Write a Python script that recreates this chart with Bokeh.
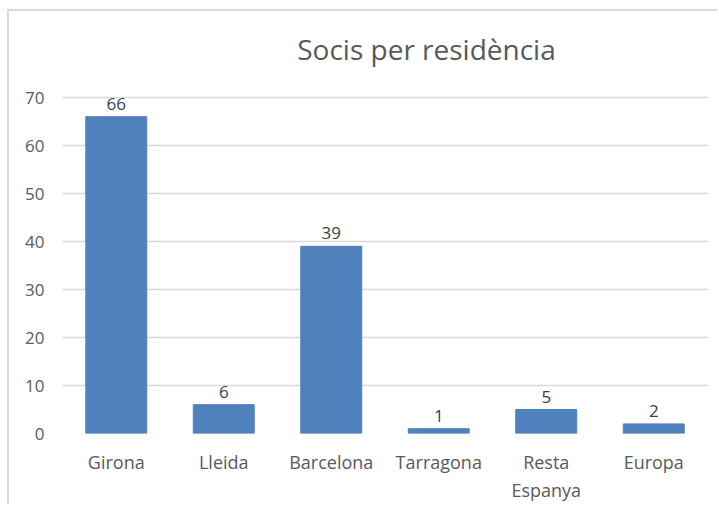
from bokeh.plotting import figure
from bokeh.models import ColumnDataSource, Range1d, LabelSet, Label
from bokeh.core.properties import value
from bokeh.embed import file_html
from bokeh.resources import INLINE

categories = ["Girona", "Lleida", "Barcelona", "Tarragona", "Resta\nEspanya", "Europa"]
socis = [66, 6, 39, 1, 5, 2]
y_ticks = [0, 10, 20, 30, 40, 50, 60, 70]
title_text = "Socis per residència"

FONT = "Open Sans"
src = ColumnDataSource(dict(cat=categories, val=socis, lab=[str(v) for v in socis]))

# frame spans from canvas top+5 to the zero line; top of range leaves room for the title
p = figure(x_range=categories, y_range=Range1d(0, 86.875), width=710, height=495,
           output_backend="svg", toolbar_location=None, title=None,
           min_border_left=53, min_border_right=12, min_border_top=5, min_border_bottom=73,
           styles={"border-top": "2px solid #d9d9d9", "border-left": "2px solid #d9d9d9",
                   "margin-top": "9px", "margin-left": "7px"})
p.outline_line_color = None
p.background_fill_color = "white"
p.border_fill_color = "white"

p.vbar(x="cat", top="val", width=0.567, source=src, fill_color="#4f81bd",
       line_color="#4f81bd")

labels = LabelSet(x="cat", y="val", text="lab", source=src, text_align="center",
                  text_baseline="bottom", y_offset=7, text_font=value(FONT),
                  text_font_size=value("17px"), text_color=value("#404040"))
p.add_layout(labels)

title = Label(x=3.386, y=80.2, text=title_text, text_align="center", text_baseline="middle",
              text_font=FONT, text_font_size="28px", text_color="#595959")
p.add_layout(title)

p.xgrid.grid_line_color = None
p.ygrid.grid_line_color = "#d9d9d9"
p.ygrid.grid_line_width = 1.5
p.yaxis.ticker = y_ticks

for ax in (p.xaxis[0], p.yaxis[0]):
    ax.axis_line_color = None
    ax.major_tick_line_color = None
    ax.minor_tick_line_color = None
    ax.major_label_text_font = FONT
    ax.major_label_text_font_size = "17px"
    ax.major_label_text_color = "#595959"
p.xaxis.major_label_text_font_size = "18px"
p.yaxis.major_label_standoff = 12
p.xaxis.major_label_standoff = 10

open("out.html", "w").write(file_html(p, INLINE))
